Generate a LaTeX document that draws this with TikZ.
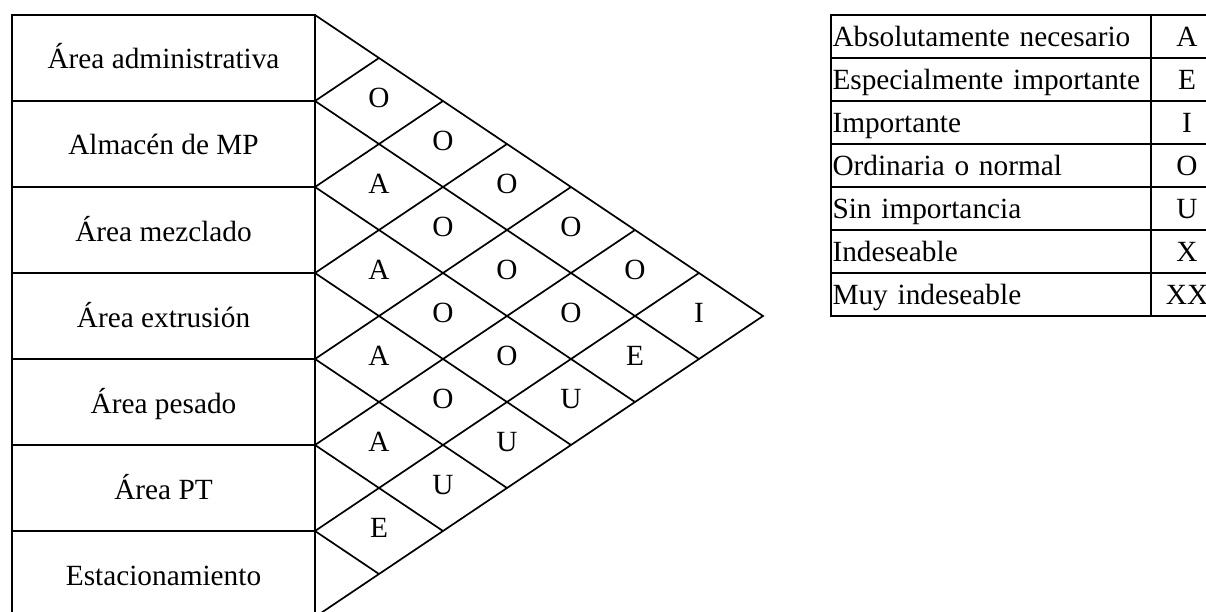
\documentclass[tikz,border=0pt]{standalone}
\usepackage{fontspec}
\setmainfont{Liberation Serif}
\begin{document}
\begin{tikzpicture}[x=1pt, y=-1pt, line width=1.7pt,
  every node/.style={font=\fontsize{29.3}{34}\selectfont, outer sep=0pt},
  area/.style={draw, minimum width=303pt, minimum height=86pt, inner sep=0pt,
               text height=22pt, text depth=0pt},
  rel/.style={inner sep=0pt, text height=13pt, text depth=0pt},
  keytext/.style={draw, minimum height=43pt, inner xsep=1.5pt, inner ysep=0pt,
                  text width=317pt, align=left, text height=20pt, text depth=0pt},
  keycode/.style={draw, minimum width=72pt, minimum height=43pt, inner sep=0pt,
                  text height=20pt, text depth=0pt}]
\useasboundingbox (0,0) rectangle (1206,612);

% departments, one row each
\foreach \name [count=\k] in {Área administrativa, Almacén de MP, Área mezclado,
    Área extrusión, Área pesado, Área PT, Estacionamiento}
  \node[area] (a\k) at (163.5, {58+86*(\k-1)}) {\name};

% outline of the relationship chart
\coordinate (apex) at (763,316);
\draw (a1.north east) -- (apex) -- (a7.south east);

% diagonal grid lines starting at each row boundary
\foreach \k in {1,...,6}
  \draw (a\k.south east) ++(64*\k,-43*\k) -- (a\k.south east)
        -- ++({64*(7-\k)},{43*(7-\k)});

% closeness ratings for each pair of departments
\foreach \i/\j/\r in {1/2/O, 2/3/A, 3/4/A, 4/5/A, 5/6/A, 6/7/E,
                      1/3/O, 2/4/O, 3/5/O, 4/6/O, 5/7/U,
                      1/4/O, 2/5/O, 3/6/O, 4/7/U,
                      1/5/O, 2/6/O, 3/7/U,
                      1/6/O, 2/7/E,
                      1/7/I}
  \node[rel] (r\i\j) at ({315+64*(\j-\i)}, {15+43*(\i+\j-1)}) {\r};

% legend of rating codes
\foreach \txt/\code [count=\k] in {Absolutamente necesario/A,
    Especialmente importante/E, Importante/I, Ordinaria o normal/O,
    Sin importancia/U, Indeseable/X, Muy indeseable/XX} {
  \node[keytext] (k\k) at (991, {36.5+43*(\k-1)}) {\txt};
  \node[keycode] (c\k) at (1187, {36.5+43*(\k-1)}) {\code};
}
\end{tikzpicture}
\end{document}
